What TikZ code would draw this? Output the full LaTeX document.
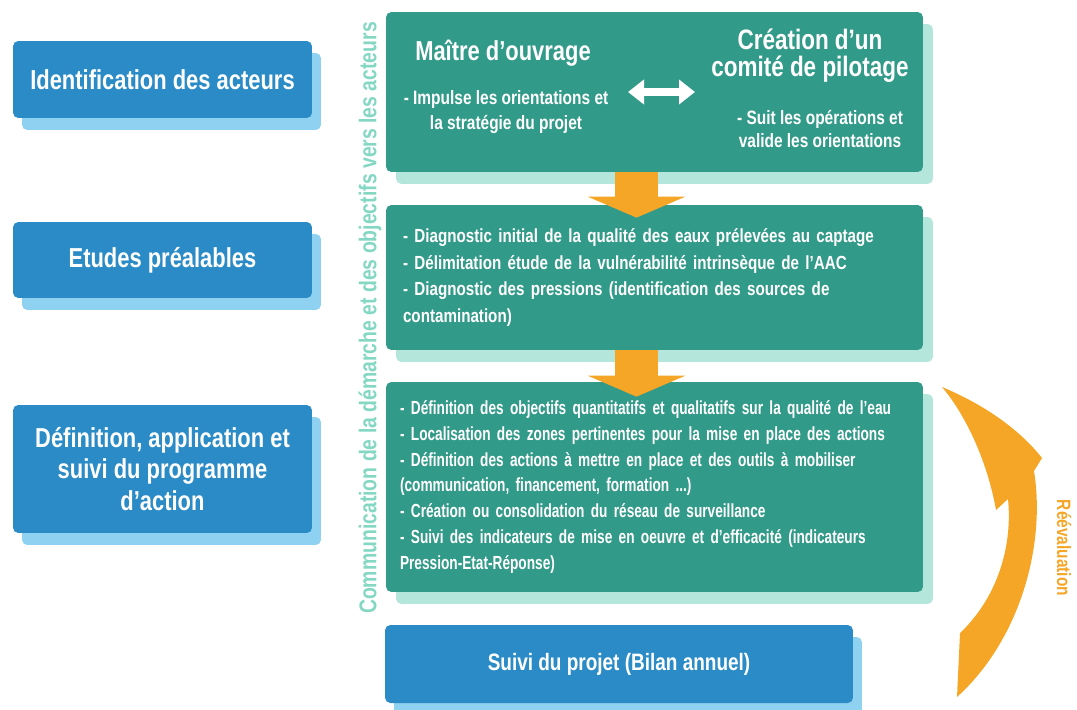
\documentclass[tikz,border=0pt]{standalone}
\usepackage{fontspec}
\setmainfont{Liberation Sans}[FakeStretch=0.8]
\newfontfamily\etroit{Liberation Sans}[FakeStretch=0.72]
\usetikzlibrary{arrows.meta,shadows}

\definecolor{bleu}{HTML}{2A8BC6}
\definecolor{bleuclair}{HTML}{8ED1F0}
\definecolor{vert}{HTML}{329A88}
\definecolor{vertclair}{HTML}{B4E6DC}
\definecolor{verttxt}{HTML}{84D8C3}
\definecolor{orangeflux}{HTML}{F5A627}

\newcommand\fonttitre{\bfseries\fontsize{15.6}{18}\selectfont}
\newcommand\fontcorps{\bfseries\fontsize{10.8}{15.1}\selectfont}

\tikzset{
  bluebox/.style={fill=bleu,rounded corners=3pt,text=white,font=\fonttitre,
    align=center,inner sep=0pt,
    drop shadow={shadow xshift=0.18cm,shadow yshift=-0.24cm,fill=bleuclair,opacity=1}},
  greenbox/.style={fill=vert,rounded corners=3pt,text=white,font=\fontcorps,
    align=left,inner sep=0pt,minimum width=10.74cm,
    drop shadow={shadow xshift=0.2cm,shadow yshift=-0.24cm,fill=vertclair,opacity=1}},
  flux/.style={draw=orangeflux,line width=0.86cm,-{Triangle[width=1.94cm,length=0.42cm]}}
}

\begin{document}
\begin{tikzpicture}[x=0.02cm,y=-0.02cm]
\useasboundingbox (0,0) rectangle (1077,709);

% colonne de gauche
\node[bluebox,minimum width=5.98cm,minimum height=1.54cm] (ident) at (162.5,79.5) {Identification des acteurs};
\node[bluebox,minimum width=5.98cm,minimum height=1.52cm] (etudes) at (162.5,260) {Etudes préalables};
\node[bluebox,minimum width=5.98cm,minimum height=2.56cm] (progr) at (162.5,469) {Définition, application et\\suivi du programme\\d’action};

% boites vertes
\node[greenbox,minimum height=3.2cm] (acteurs) at (654.5,92) {};
\node[greenbox,minimum height=2.9cm,text width=10.06cm] (diag) at (654.5,277.5) {- Diagnostic initial de la qualité des eaux prélevées au captage\\
- Délimitation étude de la vulnérabilité intrinsèque de l’AAC\\
- Diagnostic des pressions (identification des sources de\\
contamination)};
\node[greenbox,minimum height=4.2cm,text width=10.18cm,inner xsep=0.28cm,font=\etroit\bfseries\fontsize{10.8}{14.7}\selectfont] (actions) at (654.5,487) {- Définition des objectifs quantitatifs et qualitatifs sur la qualité de l’eau\\
- Localisation des zones pertinentes pour la mise en place des actions\\
- Définition des actions à mettre en place et des outils à mobiliser\\
(communication, financement, formation ...)\\
- Création ou consolidation du réseau de surveillance\\
- Suivi des indicateurs de mise en oeuvre et d’efficacité (indicateurs\\
Pression-Etat-Réponse)};
\node[bluebox,minimum width=9.36cm,minimum height=1.56cm,font=\bfseries\fontsize{13.5}{16}\selectfont] (suivi) at (619,664) {Suivi du projet (Bilan annuel)};

% contenu de la premiere boite
\node[text=white,font=\fonttitre] (mo) at (503,53) {Maître d’ouvrage};
\node[text=white,font=\bfseries\fontsize{11}{13.8}\selectfont,align=center] (motxt) at (506,112) {- Impulse les orientations et\\la stratégie du projet};
\node[text=white,font=\bfseries\fontsize{16}{15.5}\selectfont,align=center] (copil) at (810,56) {Création d’un\\comité de pilotage};
\node[text=white,font=\bfseries\fontsize{11}{13}\selectfont,align=center] (copiltxt) at (820,129) {- Suit les opérations et\\valide les orientations};
\coordinate (ga) at (628,92);
\coordinate (dr) at (695,92);
\draw[white,line width=0.16cm,{Triangle[width=0.48cm,length=0.32cm]}-{Triangle[width=0.48cm,length=0.32cm]}] (ga) -- (dr);

% fleches orange
\draw[flux] ([xshift=-0.36cm]acteurs.south) -- ([xshift=-0.36cm,yshift=-0.26cm]diag.north);
\draw[flux] ([xshift=-0.36cm]diag.south) -- ([xshift=-0.36cm,yshift=-0.3cm]actions.north);

% reevaluation
\fill[orangeflux] (942,387) .. controls (985,405) and (1020,430) .. (1042,458) -- (1034,471)
  .. controls (1046,545) and (1020,640) .. (957,697) -- (960,633)
  .. controls (995,600) and (1013,550) .. (1008,499) -- (996,510)
  .. controls (988,465) and (968,418) .. cycle;
\node[rotate=-90,text=orangeflux,font=\bfseries\fontsize{11}{13}\selectfont] (reeval) at (1064,548) {Réévaluation};

\node[rotate=90,text=verttxt,font=\bfseries\fontsize{13.8}{16}\selectfont] (comm) at (370,318) {Communication de la démarche et des objectifs vers les acteurs};
\end{tikzpicture}
\end{document}
